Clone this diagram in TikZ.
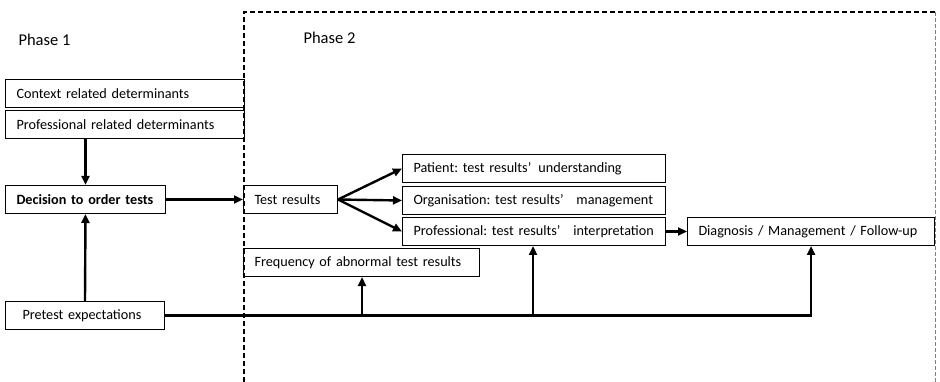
\documentclass[tikz,border=0pt]{standalone}
\usepackage{fontspec}
\setmainfont{Carlito}
\usetikzlibrary{arrows.meta}
\frenchspacing
\begin{document}
\begin{tikzpicture}[x=1pt,y=-1pt,
  box/.style={draw, line width=1pt, inner xsep=11pt, inner ysep=0pt, minimum height=28, anchor=north west, align=left, font=\fontsize{14.2}{16}\selectfont},
  arr/.style={line width=2.4pt, -{Triangle[length=9pt,width=8pt]}},
  phase/.style={anchor=west, font=\fontsize{16.5}{18}\selectfont}]
\useasboundingbox (0,0) rectangle (940,382);
% frame
\draw[line width=1.8pt, dash pattern=on 5pt off 3pt] (244,382) -- (244,12) -- (935,12);
\draw[line width=0.6pt, gray, dash pattern=on 4pt off 2pt] (935,12) -- (935,382);
\node[phase] (p1) at (15,40) {Phase 1};
\node[phase] (p2) at (300,38) {Phase 2};
% boxes
\node[box, text width=217] (ctx) at (5,79) {Context related determinants};
\node[box, text width=217] (pdet) at (5,110) {Professional related determinants};
\node[box, text width=138, font=\fontsize{14.2}{16}\selectfont\bfseries] (dec) at (5,185) {Decision to order tests};
\node[box, text width=72] (tr) at (243,185) {Test results};
\node[box, text width=241] (pat) at (402,154) {Patient: test results’\hspace{0.5em}understanding};
\node[box, text width=241] (org) at (402,186) {Organisation: test results’\hspace{0.9em}management};
\node[box, text width=241] (pro) at (402,217) {Professional: test results’\hspace{0.9em}interpretation};
\node[box, text width=214] (freq) at (243,248) {Frequency of abnormal test results};
\node[box, text width=225] (diag) at (687,217) {Diagnosis / Management / Follow-up};
\node[box, text width=137] (pre) at (5,301) {\hspace{6pt}Pretest expectations};
% connectors
\draw[arr] (dec.north |- pdet.south) -- (dec.north);
\draw[arr] (pre.north) -- (dec.south);
\draw[arr] (dec.east) -- (tr.west);
\draw[arr] (tr.east) -- (pat.west);
\draw[arr] (tr.east) -- (org.west);
\draw[arr] (tr.east) -- (pro.west);
\draw[arr] (pro.east) -- (diag.west);
\coordinate (j1) at (362,0);
\coordinate (j2) at (533,0);
\draw[arr] (pre.east) -| (diag.south);
\draw[arr] (j1 |- pre.east) -- (j1 |- freq.south);
\draw[arr] (j2 |- pre.east) -- (j2 |- pro.south);
\end{tikzpicture}
\end{document}
